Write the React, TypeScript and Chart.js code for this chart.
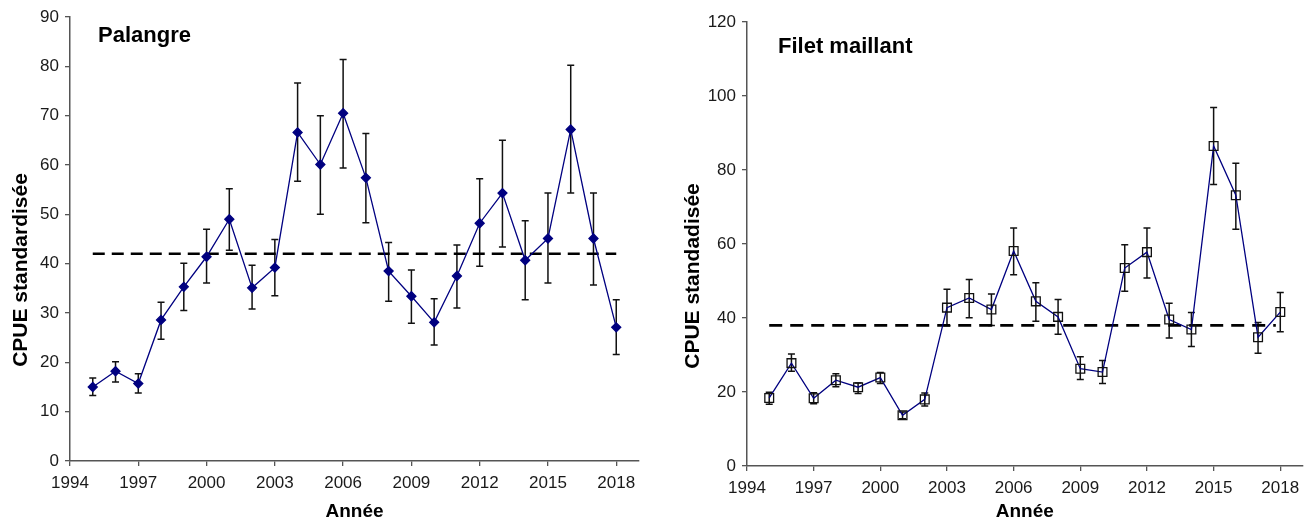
import React, { useEffect, useRef } from "react";
import { Chart, registerables } from "chart.js";

Chart.register(...registerables);

const FONT = "'Liberation Sans', Arial, Helvetica, sans-serif";

const years = [1995, 1996, 1997, 1998, 1999, 2000, 2001, 2002, 2003, 2004, 2005, 2006, 2007, 2008, 2009, 2010, 2011, 2012, 2013, 2014, 2015, 2016, 2017, 2018];
const xTickYears = [1994, 1997, 2000, 2003, 2006, 2009, 2012, 2015, 2018];

const palangre = [15.0, 18.2, 15.7, 28.6, 35.3, 41.4, 49.0, 35.1, 39.2, 66.6, 60.1, 70.5, 57.4, 38.5, 33.4, 28.1, 37.5, 48.2, 54.3, 40.7, 45.1, 67.2, 45.1, 27.1];
const palangreLo = [13.3, 16.0, 13.8, 24.7, 30.5, 36.1, 42.7, 30.8, 33.5, 56.7, 50.0, 59.4, 48.3, 32.4, 27.9, 23.5, 31.0, 39.5, 43.4, 32.7, 36.1, 54.3, 35.7, 21.6];
const palangreHi = [16.8, 20.1, 17.7, 32.2, 40.1, 47.0, 55.2, 39.7, 44.9, 76.6, 70.0, 81.4, 66.4, 44.3, 38.7, 32.9, 43.8, 57.2, 65.0, 48.7, 54.3, 80.2, 54.3, 32.7];
const palangreMean = 42;
const palangreMeanSpan = [1995, 2018];

const filet = [18.4, 27.8, 18.3, 23.2, 21.3, 23.9, 13.7, 18.0, 42.8, 45.4, 42.3, 58.1, 44.5, 40.3, 26.3, 25.4, 53.5, 57.8, 39.6, 36.9, 86.5, 73.2, 34.8, 41.6];
const filetLo = [16.7, 25.6, 16.8, 21.4, 19.6, 22.3, 12.8, 16.2, 37.9, 40.1, 38.0, 51.7, 39.1, 35.6, 23.4, 22.3, 47.2, 50.8, 34.6, 32.3, 76.1, 64.0, 30.5, 36.3];
const filetHi = [19.9, 30.3, 19.8, 24.9, 22.4, 25.3, 14.6, 19.7, 47.8, 50.4, 46.5, 64.3, 49.5, 45.0, 29.5, 28.5, 59.8, 64.3, 44.0, 41.5, 96.9, 81.8, 38.8, 46.9];
const filetMean = 38;
const filetMeanSpan = [1995, 2017.8];

type PanelSpec = {
  values: number[];
  lo: number[];
  hi: number[];
  mean: number;
  meanSpan: number[];
  yMax: number;
  yStep: number;
  title: string;
  yTitle: string;
  pointStyle: string;
  pointRadius: number;
  pointFill: string;
  pointBorder: string;
  dash: number[];
  yWidth: number;
  xHeight: number;
  padTop: number;
  padRight: number;
  yTitleX: number;
  yTitleY: number;
  titleDX: number;
  titleY: number;
};

function Panel({ spec, left }: { spec: PanelSpec; left: number }) {
  const ref = useRef<HTMLCanvasElement>(null);
  useEffect(() => {
    if (!ref.current) return;
    const errorBars = {
      id: "errorBars",
      beforeDatasetsDraw(chart: any) {
        const ctx = chart.ctx;
        const xs = chart.scales.x;
        const ys = chart.scales.y;
        ctx.save();
        ctx.strokeStyle = "#111";
        ctx.lineWidth = 1.5;
        const cap = 3.5;
        years.forEach((yr, i) => {
          const px = xs.getPixelForValue(yr);
          const pl = ys.getPixelForValue(spec.lo[i]);
          const ph = ys.getPixelForValue(spec.hi[i]);
          ctx.beginPath();
          ctx.moveTo(px, pl);
          ctx.lineTo(px, ph);
          ctx.moveTo(px - cap, pl);
          ctx.lineTo(px + cap, pl);
          ctx.moveTo(px - cap, ph);
          ctx.lineTo(px + cap, ph);
          ctx.stroke();
        });
        ctx.restore();
      },
    };
    const texts = {
      id: "panelTexts",
      afterDraw(chart: any) {
        const ctx = chart.ctx;
        const area = chart.chartArea;
        ctx.save();
        ctx.fillStyle = "#000";
        ctx.font = `bold 22px ${FONT}`;
        ctx.textAlign = "left";
        ctx.textBaseline = "alphabetic";
        ctx.fillText(spec.title, area.left + spec.titleDX, spec.titleY);
        ctx.translate(spec.yTitleX, spec.yTitleY);
        ctx.rotate(-Math.PI / 2);
        ctx.font = `bold 21px ${FONT}`;
        ctx.textAlign = "center";
        ctx.textBaseline = "middle";
        ctx.fillText(spec.yTitle, 0, 0);
        ctx.restore();
      },
    };
    const axisColor = "#555";
    const chart = new Chart(ref.current, {
      type: "line",
      data: {
        datasets: [
          {
            data: years.map((y, i) => ({ x: y, y: spec.values[i] })),
            borderColor: "#000080",
            borderWidth: 1.3,
            pointStyle: spec.pointStyle as any,
            pointRadius: spec.pointRadius,
            pointBackgroundColor: spec.pointFill,
            pointBorderColor: spec.pointBorder,
            pointBorderWidth: 1.3,
            tension: 0,
            fill: false,
          },
          {
            data: spec.meanSpan.map((x) => ({ x, y: spec.mean })),
            borderColor: "#000",
            borderWidth: 2.6,
            borderDash: spec.dash,
            pointRadius: 0,
            fill: false,
          },
        ],
      },
      options: {
        animation: false,
        responsive: false,
        maintainAspectRatio: false,
        layout: { padding: { left: 0, right: spec.padRight, top: spec.padTop, bottom: 0 } },
        plugins: { legend: { display: false }, tooltip: { enabled: false } },
        scales: {
          x: {
            type: "linear",
            min: 1994,
            max: 2019,
            afterBuildTicks: (s: any) => {
              s.ticks = xTickYears.map((v) => ({ value: v }));
            },
            afterFit: (s: any) => {
              s.height = spec.xHeight;
            },
            grid: { drawOnChartArea: false, drawTicks: true, tickLength: 5, color: axisColor, lineWidth: 1.3 },
            border: { display: true, color: axisColor, width: 1.5 },
            ticks: {
              font: { family: FONT, size: 17 },
              color: "#1a1a1a",
              padding: 7,
              maxRotation: 0,
              autoSkip: false,
              callback: (v: any) => String(v),
            },
            title: {
              display: true,
              text: "Année",
              font: { family: FONT, size: 19, weight: "bold", lineHeight: 1.0 },
              color: "#000",
              padding: { top: 0, bottom: 0 },
            },
          },
          y: {
            type: "linear",
            min: 0,
            max: spec.yMax,
            afterFit: (s: any) => {
              s.width = spec.yWidth;
            },
            grid: { drawOnChartArea: false, drawTicks: true, tickLength: 5, color: axisColor, lineWidth: 1.3 },
            border: { display: true, color: axisColor, width: 1.5 },
            ticks: {
              stepSize: spec.yStep,
              font: { family: FONT, size: 17 },
              color: "#1a1a1a",
              padding: 6,
              callback: (v: any) => String(v),
            },
          },
        },
      },
      plugins: [errorBars, texts],
    } as any);
    return () => chart.destroy();
  }, [spec]);
  return (
    <canvas
      ref={ref}
      width={650}
      height={521}
      style={{ position: "absolute", left, top: 0, width: 650, height: 521, display: "block" }}
    />
  );
}

const leftSpec: PanelSpec = {
  values: palangre,
  lo: palangreLo,
  hi: palangreHi,
  mean: palangreMean,
  meanSpan: palangreMeanSpan,
  yMax: 90,
  yStep: 10,
  title: "Palangre",
  yTitle: "CPUE standardisée",
  pointStyle: "rectRot",
  pointRadius: 4.5,
  pointFill: "#000080",
  pointBorder: "#000080",
  dash: [12, 7],
  yWidth: 70,
  xHeight: 60,
  padTop: 17,
  padRight: 11,
  yTitleX: 21,
  yTitleY: 270,
  titleDX: 28,
  titleY: 42,
};

const rightSpec: PanelSpec = {
  values: filet,
  lo: filetLo,
  hi: filetHi,
  mean: filetMean,
  meanSpan: filetMeanSpan,
  yMax: 120,
  yStep: 20,
  title: "Filet maillant",
  yTitle: "CPUE standadisée",
  pointStyle: "rect",
  pointRadius: 6.2,
  pointFill: "rgba(255,255,255,0)",
  pointBorder: "#111",
  dash: [13, 8],
  yWidth: 87,
  xHeight: 55,
  padTop: 22,
  padRight: 2,
  yTitleX: 33,
  yTitleY: 276,
  titleDX: 31,
  titleY: 53,
};

export default function App() {
  return (
    <div style={{ position: "absolute", left: 0, top: 0, width: 1310, height: 521, background: "#fff" }}>
      <Panel spec={leftSpec} left={0} />
      <Panel spec={rightSpec} left={660} />
    </div>
  );
}
